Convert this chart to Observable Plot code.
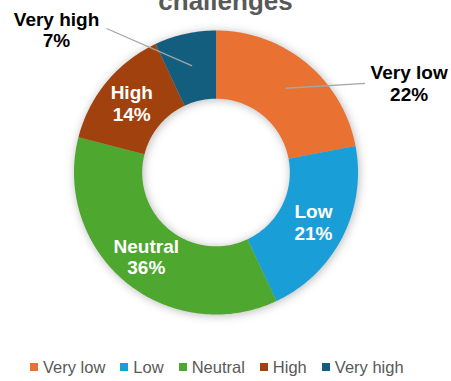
<!DOCTYPE html>
<html><head><meta charset="utf-8">
<script src="https://cdn.jsdelivr.net/npm/d3@7"></script>
<script src="https://cdn.jsdelivr.net/npm/@observablehq/plot@0.6"></script>
<style>
body{margin:0;background:#fff;}
#wrap{position:relative;width:451px;height:381px;overflow:hidden;font-family:"Liberation Sans",Arial,sans-serif;}
#title{position:absolute;left:0;width:451px;top:-12px;text-align:center;font-size:26px;line-height:26px;font-weight:bold;color:#595959;}
#chart{position:absolute;left:0;top:0;}
#legend{position:absolute;left:30px;top:357px;}
.lg-swatches-wrap{min-height:20px !important;flex-wrap:nowrap !important;}
.lg-swatch{margin-right:15px !important;}
.lg-swatch > svg{margin-right:5px !important;}
</style></head><body>
<div id="wrap"><div id="title">challenges</div><div id="chart"></div><div id="legend"></div></div>
<script>
// ---- data ----
const categories = ["Very low", "Low", "Neutral", "High", "Very high"];
const percents = [22, 21, 36, 14, 7];
const colors = ["#E97132", "#1A9ED8", "#4EA72E", "#A0410E", "#135E7E"];
const outsideLabels = ["Very low", "Very high"];

// ---- layout ----
const W = 451, H = 345, cx = 215.5, cy = 172, R = 142;
const innerFrac = 0.52, labelFrac = 0.77;
const outsidePlacement = {
  "Very low": {label: [1.36, 0.63], end: [1.05, 0.627]},
  "Very high": {label: [-1.123, 1.007], end: [-0.771, 1.014]}
};

// ---- geometry from data ----
const total = d3.sum(percents);
let acc = 0;
const slices = categories.map((c, i) => {
  const a0 = acc / total * 2 * Math.PI;
  acc += percents[i];
  const a1 = acc / total * 2 * Math.PI;
  return {cat: c, pct: percents[i], a0, a1, mid: (a0 + a1) / 2};
});
const ring = [];
for (const s of slices) {
  const n = Math.max(2, Math.ceil((s.a1 - s.a0) / (Math.PI / 180)));
  for (let k = 0; k <= n; k++) {
    const a = s.a0 + (s.a1 - s.a0) * k / n;
    ring.push({cat: s.cat, x: Math.sin(a), y: Math.cos(a)});
  }
  for (let k = n; k >= 0; k--) {
    const a = s.a0 + (s.a1 - s.a0) * k / n;
    ring.push({cat: s.cat, x: innerFrac * Math.sin(a), y: innerFrac * Math.cos(a)});
  }
}
const labels = slices.map(s => {
  const ax = labelFrac * Math.sin(s.mid), ay = labelFrac * Math.cos(s.mid);
  const out = outsideLabels.includes(s.cat);
  const p = out ? outsidePlacement[s.cat] : null;
  return {
    cat: s.cat, text: `${s.cat}\n${s.pct}%`, out,
    x: out ? p.label[0] : ax, y: out ? p.label[1] : ay,
    ax, ay, ex: out ? p.end[0] : ax, ey: out ? p.end[1] : ay
  };
});

const font = "'Liberation Sans', Arial, sans-serif";
const plot = Plot.plot({
  width: W, height: H, margin: 0,
  x: {domain: [-1, 1], range: [cx - R, cx + R], axis: null},
  y: {domain: [-1, 1], range: [cy + R, cy - R], axis: null},
  color: {domain: categories, range: colors},
  style: {background: "transparent", overflow: "visible"},
  marks: [
    Plot.line(ring, {x: "x", y: "y", z: "cat", fill: "cat", stroke: "none", curve: "linear-closed"}),
    Plot.link(labels.filter(d => d.out), {x1: "ax", y1: "ay", x2: "ex", y2: "ey", stroke: "#a6a6a6", strokeWidth: 1.3}),
    Plot.text(labels.filter(d => !d.out), {x: "x", y: "y", text: "text", fill: "white", fontSize: 19, fontWeight: "bold", lineHeight: 1.14, fontFamily: font}),
    Plot.text(labels.filter(d => d.out), {x: "x", y: "y", text: "text", fill: "black", fontSize: 19, fontWeight: "bold", lineHeight: 1.14, fontFamily: font})
  ]
});
const lineG = plot.querySelector('g[aria-label="line"]');
if (lineG) lineG.style.filter = "drop-shadow(1px 1px 5px rgba(0,0,0,0.28))";
document.getElementById("chart").appendChild(plot);

const legend = Plot.legend({
  color: {domain: categories, range: colors},
  swatchSize: 8, className: "lg",
  style: {fontSize: "16.5px", fontFamily: font, color: "#595959"}
});
document.getElementById("legend").appendChild(legend);
</script>
</body></html>
